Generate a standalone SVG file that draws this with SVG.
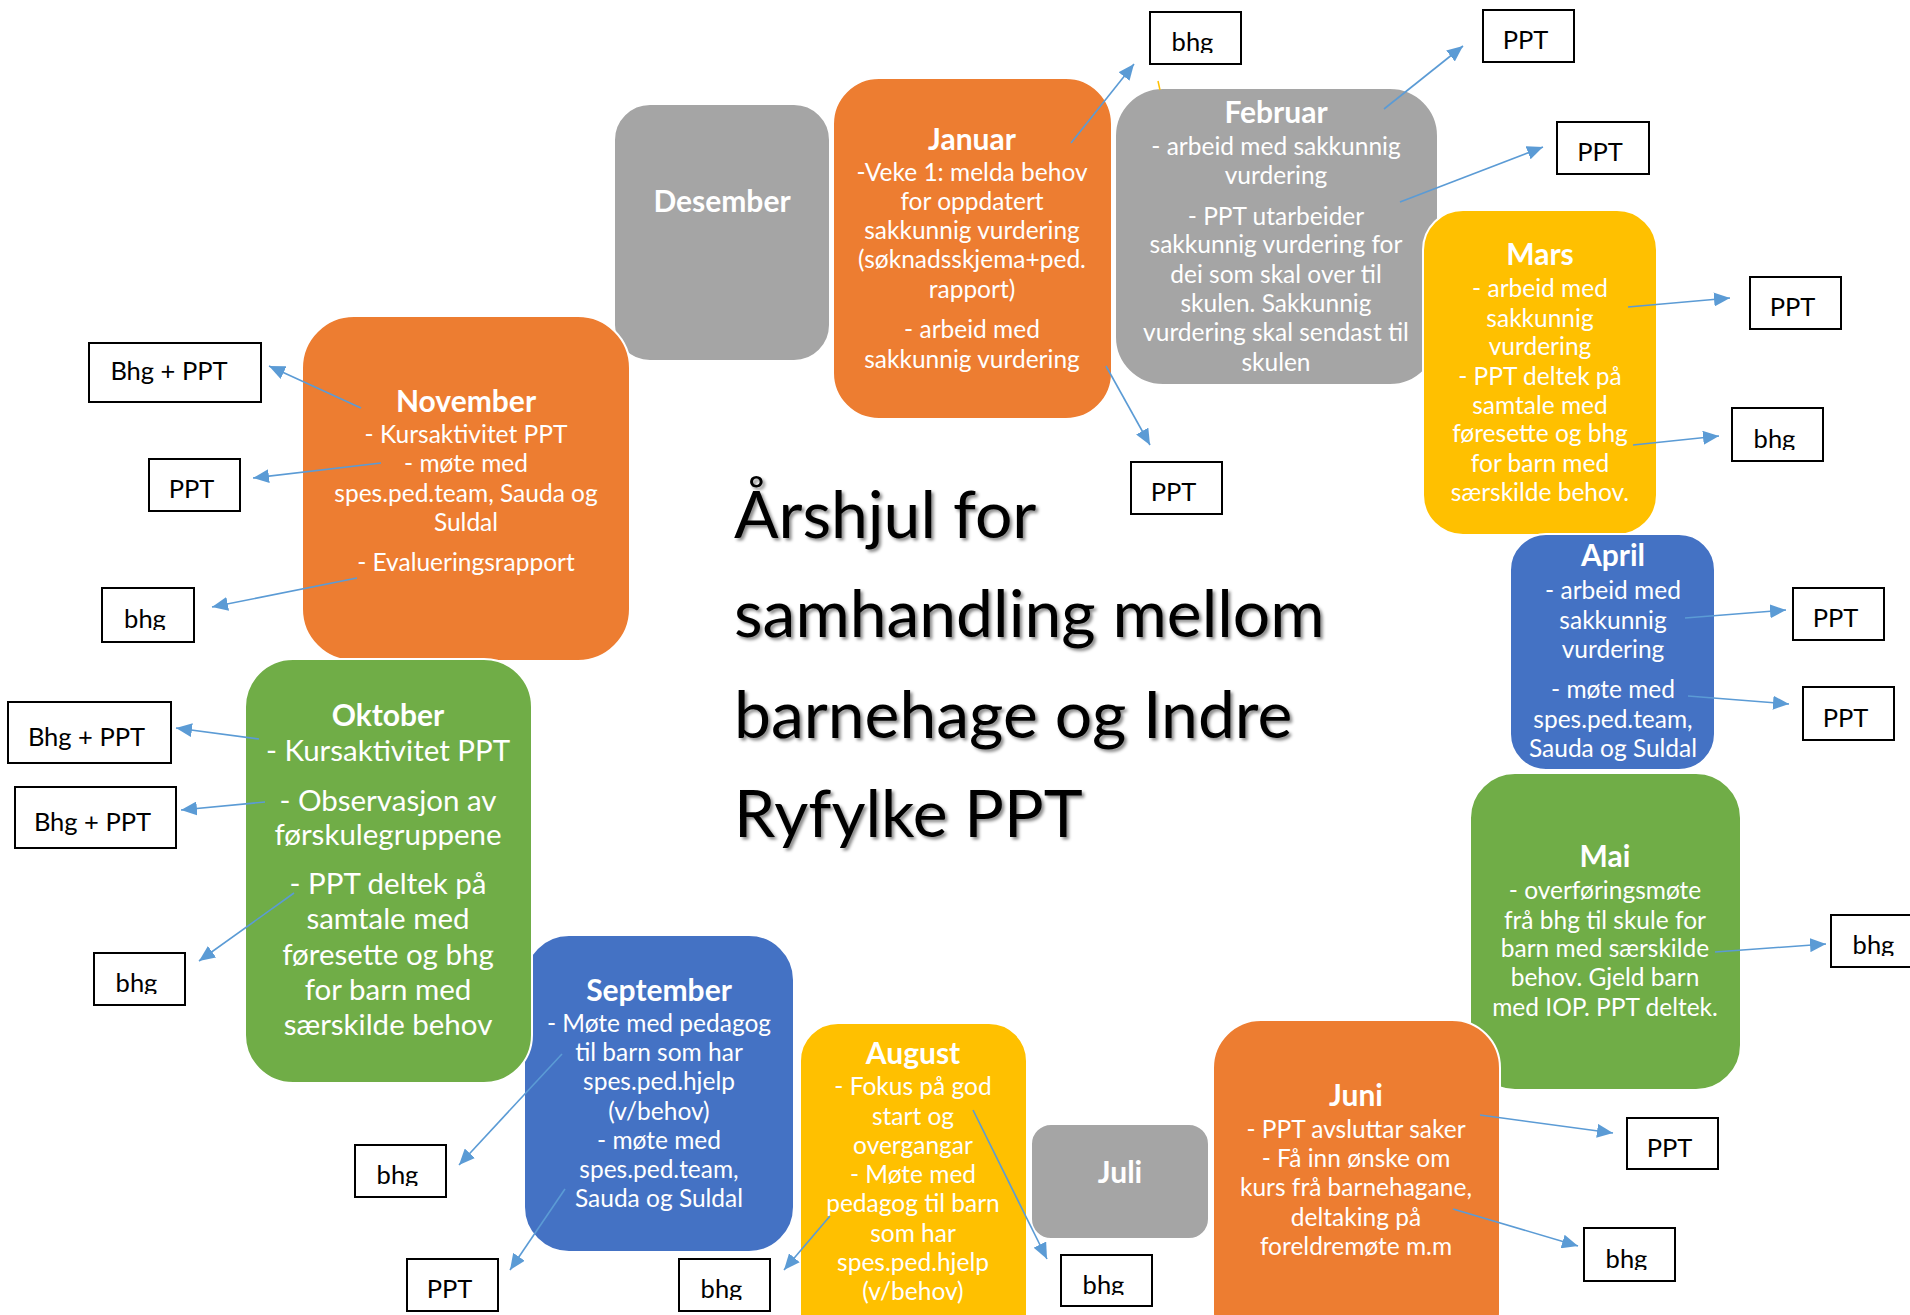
<svg xmlns="http://www.w3.org/2000/svg" width="1910" height="1315" viewBox="0 0 1910 1315">
<style>
.box{stroke:#fff;stroke-width:2}
.gray{fill:#A5A5A5}.orange{fill:#ED7D31}.yellow{fill:#FFC000}.blue{fill:#4472C4}.green{fill:#70AD47}
text{font-family:"Lato","Liberation Sans",sans-serif}
.t{fill:#fff;font-weight:bold;font-size:30px;text-anchor:middle}
.b{fill:#fff;font-size:24.5px;text-anchor:middle}
.bl{fill:#fff;font-size:29.5px;text-anchor:middle}
.lr{fill:#fff;stroke:#000;stroke-width:2}
.lt{fill:#000;font-size:25.5px;text-anchor:middle}
.title{fill:#000;font-size:66px}
.con line{stroke:#5B9BD5;stroke-width:1.6;fill:none}
</style>
<defs>
<marker id="ah" markerUnits="userSpaceOnUse" markerWidth="16" markerHeight="14" refX="16" refY="7" orient="auto">
<path d="M0,0 L16,7 L0,14 z" fill="#5B9BD5"/>
</marker>
<filter id="sh" x="-5%" y="-20%" width="110%" height="140%">
<feDropShadow dx="2.5" dy="2.5" stdDeviation="1.5" flood-color="#000" flood-opacity="0.45"/>
</filter>
</defs>
<rect width="1910" height="1315" fill="#fff"/>

<g id="desember"><rect class="box gray" x="614" y="104" width="216" height="257" rx="36"/>
<text class="t" x="722" y="212">Desember</text></g>

<g id="november"><rect class="box orange" x="302" y="316" width="328" height="345" rx="52"/>
<text class="t" x="466" y="412">November</text>
<text class="b" x="466" y="443">- Kursaktivitet PPT</text>
<text class="b" x="466" y="472">- møte med</text>
<text class="b" x="466" y="502">spes.ped.team, Sauda og</text>
<text class="b" x="466" y="531">Suldal</text>
<text class="b" x="466" y="571">- Evalueringsrapport</text></g>

<g id="januar"><rect class="box orange" x="833" y="78" width="279" height="341" rx="46"/>
<text class="t" x="972" y="150">Januar</text>
<text class="b" x="972" y="181">-Veke 1: melda behov</text>
<text class="b" x="972" y="210">for oppdatert</text>
<text class="b" x="972" y="239">sakkunnig vurdering</text>
<text class="b" x="972" y="268">(søknadsskjema+ped.</text>
<text class="b" x="972" y="298">rapport)</text>
<text class="b" x="972" y="338">- arbeid med</text>
<text class="b" x="972" y="368">sakkunnig vurdering</text></g>

<g id="februar"><rect class="box gray" x="1115" y="88" width="323" height="297" rx="48"/>
<text class="t" x="1276" y="123">Februar</text>
<text class="b" x="1276" y="155">- arbeid med sakkunnig</text>
<text class="b" x="1276" y="184">vurdering</text>
<text class="b" x="1276" y="225">- PPT utarbeider</text>
<text class="b" x="1276" y="253">sakkunnig vurdering for</text>
<text class="b" x="1276" y="283">dei som skal over til</text>
<text class="b" x="1276" y="312">skulen. Sakkunnig</text>
<text class="b" x="1276" y="341">vurdering skal sendast til</text>
<text class="b" x="1276" y="371">skulen</text></g>

<g id="mars"><rect class="box yellow" x="1423" y="210" width="234" height="325" rx="40"/>
<text class="t" x="1540" y="265">Mars</text>
<text class="b" x="1540" y="297">- arbeid med</text>
<text class="b" x="1540" y="327">sakkunnig</text>
<text class="b" x="1540" y="355">vurdering</text>
<text class="b" x="1540" y="385">- PPT deltek på</text>
<text class="b" x="1540" y="414">samtale med</text>
<text class="b" x="1540" y="442">føresette og bhg</text>
<text class="b" x="1540" y="472">for barn med</text>
<text class="b" x="1540" y="501">særskilde behov.</text></g>

<g id="april"><rect class="box blue" x="1510" y="534" width="205" height="236" rx="36"/>
<text class="t" x="1613" y="566">April</text>
<text class="b" x="1613" y="599">- arbeid med</text>
<text class="b" x="1613" y="629">sakkunnig</text>
<text class="b" x="1613" y="658">vurdering</text>
<text class="b" x="1613" y="698">- møte med</text>
<text class="b" x="1613" y="728">spes.ped.team,</text>
<text class="b" x="1613" y="757">Sauda og Suldal</text></g>

<g id="mai"><rect class="box green" x="1470" y="773" width="271" height="317" rx="45"/>
<text class="t" x="1605" y="867">Mai</text>
<text class="b" x="1605" y="899">- overføringsmøte</text>
<text class="b" x="1605" y="929">frå bhg til skule for</text>
<text class="b" x="1605" y="957">barn med særskilde</text>
<text class="b" x="1605" y="986">behov. Gjeld barn</text>
<text class="b" x="1605" y="1016">med IOP. PPT deltek.</text></g>

<g id="juni"><rect class="box orange" x="1213" y="1020" width="287" height="340" rx="48"/>
<text class="t" x="1356" y="1106">Juni</text>
<text class="b" x="1356" y="1138">- PPT avsluttar saker</text>
<text class="b" x="1356" y="1167">- Få inn ønske om</text>
<text class="b" x="1356" y="1196">kurs frå barnehagane,</text>
<text class="b" x="1356" y="1226">deltaking på</text>
<text class="b" x="1356" y="1255">foreldremøte m.m</text></g>

<g id="juli"><rect class="box gray" x="1031" y="1124" width="178" height="115" rx="20"/>
<text class="t" x="1120" y="1183">Juli</text></g>

<g id="august"><rect class="box yellow" x="800" y="1023" width="227" height="340" rx="38"/>
<text class="t" x="913" y="1064">August</text>
<text class="b" x="913" y="1095">- Fokus på god</text>
<text class="b" x="913" y="1125">start og</text>
<text class="b" x="913" y="1154">overgangar</text>
<text class="b" x="913" y="1183">- Møte med</text>
<text class="b" x="913" y="1212">pedagog til barn</text>
<text class="b" x="913" y="1242">som har</text>
<text class="b" x="913" y="1271">spes.ped.hjelp</text>
<text class="b" x="913" y="1300">(v/behov)</text></g>

<g id="september"><rect class="box blue" x="524" y="935" width="270" height="317" rx="45"/>
<text class="t" x="659" y="1001">September</text>
<text class="b" x="659" y="1032">- Møte med pedagog</text>
<text class="b" x="659" y="1061">til barn som har</text>
<text class="b" x="659" y="1090">spes.ped.hjelp</text>
<text class="b" x="659" y="1120">(v/behov)</text>
<text class="b" x="659" y="1149">- møte med</text>
<text class="b" x="659" y="1178">spes.ped.team,</text>
<text class="b" x="659" y="1207">Sauda og Suldal</text></g>

<g id="oktober"><rect class="box green" x="245" y="659" width="287" height="424" rx="48"/>
<text class="t" x="388" y="726">Oktober</text>
<text class="bl" x="388" y="761">- Kursaktivitet PPT</text>
<text class="bl" x="388" y="811">- Observasjon av</text>
<text class="bl" x="388" y="845">førskulegruppene</text>
<text class="bl" x="388" y="894">- PPT deltek på</text>
<text class="bl" x="388" y="929">samtale med</text>
<text class="bl" x="388" y="965">føresette og bhg</text>
<text class="bl" x="388" y="1000">for barn med</text>
<text class="bl" x="388" y="1035">særskilde behov</text></g>

<g id="title" filter="url(#sh)">
<text class="title" x="734" y="538">Årshjul for</text>
<text class="title" x="734" y="637">samhandling mellom</text>
<text class="title" x="734" y="738">barnehage og Indre</text>
<text class="title" x="734" y="837">Ryfylke PPT</text>
</g>

<g id="labels">
<g id="l1"><rect class="lr" x="1150" y="12" width="91" height="52"/><svg x="1150" y="12" width="91" height="41"><text class="lt" x="42.5" y="39">bhg</text></svg></g>
<g id="l2"><rect class="lr" x="1483" y="10" width="91" height="52"/><svg x="1483" y="10" width="91" height="41"><text class="lt" x="42.5" y="39">PPT</text></svg></g>
<g id="l3"><rect class="lr" x="1557" y="122" width="92" height="52"/><svg x="1557" y="122" width="92" height="41"><text class="lt" x="43" y="39">PPT</text></svg></g>
<g id="l4"><rect class="lr" x="1750" y="277" width="91" height="52"/><svg x="1750" y="277" width="91" height="41"><text class="lt" x="42.5" y="39">PPT</text></svg></g>
<g id="l5"><rect class="lr" x="1732" y="408" width="91" height="53"/><svg x="1732" y="408" width="91" height="42"><text class="lt" x="42.5" y="39.5">bhg</text></svg></g>
<g id="l6"><rect class="lr" x="1793" y="588" width="91" height="52"/><svg x="1793" y="588" width="91" height="41"><text class="lt" x="42.5" y="39">PPT</text></svg></g>
<g id="l7"><rect class="lr" x="1803" y="687" width="91" height="53"/><svg x="1803" y="687" width="91" height="42"><text class="lt" x="42.5" y="39.5">PPT</text></svg></g>
<g id="l8"><rect class="lr" x="1831" y="915" width="91" height="52"/><svg x="1831" y="915" width="91" height="41"><text class="lt" x="42.5" y="39">bhg</text></svg></g>
<g id="l9"><rect class="lr" x="1627" y="1118" width="91" height="51"/><svg x="1627" y="1118" width="91" height="40"><text class="lt" x="42.5" y="38.5">PPT</text></svg></g>
<g id="l10"><rect class="lr" x="1584" y="1228" width="91" height="53"/><svg x="1584" y="1228" width="91" height="42"><text class="lt" x="42.5" y="39.5">bhg</text></svg></g>
<g id="l11"><rect class="lr" x="1061" y="1255" width="91" height="51"/><svg x="1061" y="1255" width="91" height="40"><text class="lt" x="42.5" y="38.5">bhg</text></svg></g>
<g id="l12"><rect class="lr" x="679" y="1259" width="91" height="52"/><svg x="679" y="1259" width="91" height="41"><text class="lt" x="42.5" y="39">bhg</text></svg></g>
<g id="l13"><rect class="lr" x="407" y="1259" width="91" height="52"/><svg x="407" y="1259" width="91" height="41"><text class="lt" x="42.5" y="39">PPT</text></svg></g>
<g id="l14"><rect class="lr" x="355" y="1145" width="91" height="52"/><svg x="355" y="1145" width="91" height="41"><text class="lt" x="42.5" y="39">bhg</text></svg></g>
<g id="l15"><rect class="lr" x="94" y="953" width="91" height="52"/><svg x="94" y="953" width="91" height="41"><text class="lt" x="42.5" y="39">bhg</text></svg></g>
<g id="l16"><rect class="lr" x="15" y="787" width="161" height="61"/><svg x="15" y="787" width="161" height="50"><text class="lt" x="77.5" y="43.5">Bhg + PPT</text></svg></g>
<g id="l17"><rect class="lr" x="8" y="702" width="163" height="61"/><svg x="8" y="702" width="163" height="50"><text class="lt" x="78.5" y="43.5">Bhg + PPT</text></svg></g>
<g id="l18"><rect class="lr" x="102" y="588" width="92" height="54"/><svg x="102" y="588" width="92" height="42"><text class="lt" x="43" y="40">bhg</text></svg></g>
<g id="l19"><rect class="lr" x="149" y="459" width="91" height="52"/><svg x="149" y="459" width="91" height="41"><text class="lt" x="42.5" y="39">PPT</text></svg></g>
<g id="l20"><rect class="lr" x="89" y="343" width="172" height="59"/><svg x="89" y="343" width="172" height="48"><text class="lt" x="80" y="37">Bhg + PPT</text></svg></g>
<g id="l21"><rect class="lr" x="1131" y="462" width="91" height="52"/><svg x="1131" y="462" width="91" height="41"><text class="lt" x="42.5" y="39">PPT</text></svg></g>
</g>

<g id="connectors" class="con">
<line x1="361" y1="408" x2="269" y2="366" marker-end="url(#ah)"/>
<line x1="381" y1="463" x2="253" y2="478" marker-end="url(#ah)"/>
<line x1="357" y1="578" x2="212" y2="607" marker-end="url(#ah)"/>
<line x1="1071" y1="143" x2="1134" y2="64" marker-end="url(#ah)"/>
<line x1="1106" y1="366" x2="1150" y2="445" marker-end="url(#ah)"/>
<line x1="1384" y1="109" x2="1463" y2="46" marker-end="url(#ah)"/>
<line x1="1400" y1="202" x2="1543" y2="147" marker-end="url(#ah)"/>
<line x1="1628" y1="307" x2="1730" y2="298" marker-end="url(#ah)"/>
<line x1="1633" y1="445" x2="1719" y2="436" marker-end="url(#ah)"/>
<line x1="1685" y1="618" x2="1786" y2="610" marker-end="url(#ah)"/>
<line x1="1688" y1="696" x2="1789" y2="704" marker-end="url(#ah)"/>
<line x1="1715" y1="952" x2="1826" y2="944" marker-end="url(#ah)"/>
<line x1="1480" y1="1115" x2="1613" y2="1133" marker-end="url(#ah)"/>
<line x1="1453" y1="1209" x2="1578" y2="1246" marker-end="url(#ah)"/>
<line x1="973" y1="1110" x2="1047" y2="1259" marker-end="url(#ah)"/>
<line x1="259" y1="739" x2="176" y2="728" marker-end="url(#ah)"/>
<line x1="265" y1="802" x2="181" y2="810" marker-end="url(#ah)"/>
<line x1="294" y1="893" x2="199" y2="961" marker-end="url(#ah)"/>
<line x1="562" y1="1054" x2="459" y2="1165" marker-end="url(#ah)"/>
<line x1="565" y1="1189" x2="510" y2="1270" marker-end="url(#ah)"/>
<line x1="830" y1="1216" x2="784" y2="1270" marker-end="url(#ah)"/>
</g>
<line x1="1158" y1="81" x2="1160" y2="90" stroke="#FFC000" stroke-width="1.5"/>
</svg>
